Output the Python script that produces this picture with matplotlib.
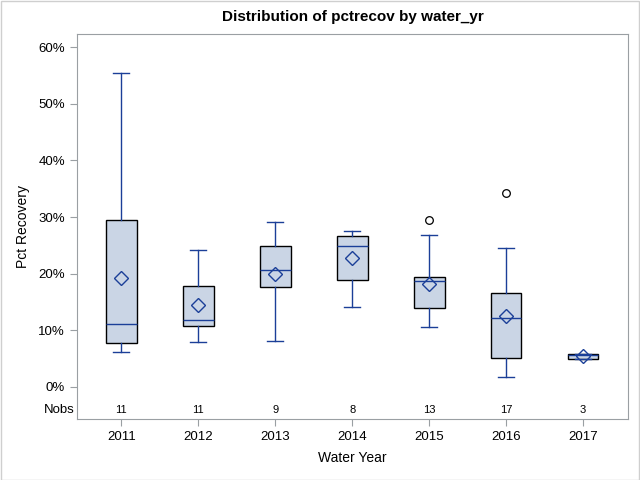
import matplotlib
matplotlib.use("Agg")
import matplotlib.pyplot as plt
from matplotlib.ticker import FuncFormatter

plt.rcParams['font.family'] = ['Liberation Sans', 'DejaVu Sans']

# values in percent
years = ["2011", "2012", "2013", "2014", "2015", "2016", "2017"]
nobs = [11, 11, 9, 8, 13, 17, 3]
whislo = [6.1, 7.9, 8.1, 14.1, 10.5, 1.7, 4.9]
q1 = [7.7, 10.7, 17.6, 18.8, 13.9, 5.2, 4.9]
med = [11.2, 11.8, 20.6, 24.8, 18.7, 12.1, 5.6]
q3 = [29.4, 17.9, 24.8, 26.6, 19.4, 16.5, 5.9]
whishi = [55.5, 24.1, 29.1, 27.5, 26.9, 24.5, 5.9]
means = [19.2, 14.4, 19.9, 22.7, 18.1, 12.5, 5.4]
fliers = [[], [], [], [], [29.4], [34.2], []]

blue = "#1B3F98"
fill = "#CAD5E5"
gray = "#9A9FA3"

stats = []
for i in range(len(years)):
    stats.append(dict(label=years[i], whislo=whislo[i], q1=q1[i], med=med[i],
                      q3=q3[i], whishi=whishi[i], mean=means[i], fliers=fliers[i]))

fig = plt.figure(figsize=(6.4, 4.8), dpi=100)
ax = fig.add_axes([77 / 640, 61 / 480, 551 / 640, 385 / 480])
pos = list(range(len(years)))
ax.bxp(stats, positions=pos, widths=0.4, patch_artist=True, showmeans=True,
       showcaps=True,
       boxprops=dict(facecolor=fill, edgecolor="black", linewidth=1.0),
       medianprops=dict(color=blue, linewidth=1.0),
       whiskerprops=dict(color=blue, linewidth=1.0),
       capprops=dict(color=blue, linewidth=1.0),
       capwidths=0.21,
       meanprops=dict(marker="D", markerfacecolor="none", markeredgecolor=blue,
                      markersize=7.5, markeredgewidth=1.0),
       flierprops=dict(marker="o", markerfacecolor="none", markeredgecolor="black",
                       markersize=5.5, markeredgewidth=0.9))

ax.set_xlim(-0.575, len(years) - 0.416)
ax.set_ylim(-5.65, 62.3)
ax.set_yticks([0, 10, 20, 30, 40, 50, 60])
ax.yaxis.set_major_formatter(FuncFormatter(lambda v, p: f"{v:.0f}%"))
ax.set_xticks(pos)
ax.set_xticklabels(years)

for i, n in enumerate(nobs):
    ax.text(i, -4.1, str(n), ha="center", va="center", fontsize=8)
ax.text(-0.005, -4.1, "Nobs", ha="right", va="center", fontsize=9.5,
        transform=ax.get_yaxis_transform())

for s in ax.spines.values():
    s.set_color(gray)
ax.tick_params(colors=gray, labelcolor="black", labelsize=9.5, length=5)
ax.set_xlabel("Water Year", fontsize=10, labelpad=6)
ax.set_ylabel("Pct Recovery", fontsize=10, labelpad=6)
ax.set_title("Distribution of pctrecov by water_yr", fontsize=11, fontweight="bold", pad=9)

fig.patches.append(plt.Rectangle((0.001, 0.001), 0.997, 0.997, transform=fig.transFigure,
                                 fill=False, edgecolor="#CFCFCF", linewidth=1.0))
fig.savefig("out.png", dpi=100)
